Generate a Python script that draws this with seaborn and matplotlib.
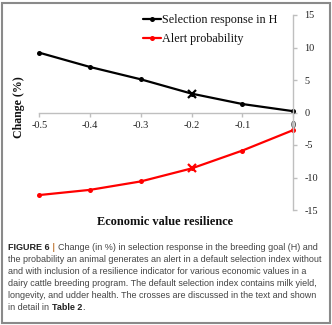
import numpy as np
import pandas as pd
import seaborn as sns
import matplotlib
matplotlib.use("Agg")
import matplotlib.pyplot as plt
from matplotlib.lines import Line2D
from matplotlib.patches import Rectangle

# Economic value of resilience and the resulting changes (%)
econ_value = [-0.5, -0.4, -0.3, -0.2, -0.1, 0.0]
selection_response = [9.2, 7.0, 5.1, 2.9, 1.3, 0.2]
alert_probability = [-12.7, -11.9, -10.6, -8.6, -5.85, -2.7]
cross_value = -0.2  # scenario detailed in Table 2

series_names = ["Selection response in H", "Alert probability"]
series_colors = ["black", "red"]
y_ticks = [-15, -10, -5, 0, 5, 10, 15]
x_ticks = [-0.5, -0.4, -0.3, -0.2, -0.1, 0.0]
x_tick_labels = ["-0.5", "-0.4", "-0.3", "-0.2", "-0.1", "0"]

caption_lines = [
    [("FIGURE 6", "bold", "#222222"), (" | ", "bold", "#c07a3a"),
     ("Change (in %) in selection response in the breeding goal (H) and", "normal", "#444444")],
    [("the probability an animal generates an alert in a default selection index without", "normal", "#444444")],
    [("and with inclusion of a resilience indicator for various economic values in a", "normal", "#444444")],
    [("dairy cattle breeding program. The default selection index contains milk yield,", "normal", "#444444")],
    [("longevity, and udder health. The crosses are discussed in the text and shown", "normal", "#444444")],
    [("in detail in ", "normal", "#444444"), ("Table 2", "bold", "#222222"), (".", "normal", "#444444")],
]

df = pd.DataFrame({
    "x": econ_value * 2,
    "y": selection_response + alert_probability,
    "series": [series_names[0]] * len(econ_value) + [series_names[1]] * len(econ_value),
})

sns.set_theme(style="white")
plt.rcParams["font.family"] = ["Liberation Serif", "DejaVu Serif"]

W, H = 332, 325
fig = plt.figure(figsize=(W / 100, H / 100), dpi=100)
fig.patch.set_facecolor("white")

# axes placed in pixel terms
x0, x1 = 39.3, 293.3
ytop, ybot = 15.0, 210.0
ax = fig.add_axes([x0 / W, (H - ybot) / H, (x1 - x0) / W, (ybot - ytop) / H])
ax.set_facecolor("none")

palette = dict(zip(series_names, series_colors))
sns.lineplot(data=df, x="x", y="y", hue="series", palette=palette, ax=ax,
             marker="o", markersize=3.6, markeredgewidth=0, linewidth=1.6,
             legend=False, clip_on=False)

# crosses at the highlighted scenario
for name, vals, col in zip(series_names, [selection_response, alert_probability], series_colors):
    yv = vals[econ_value.index(cross_value)]
    ax.plot([cross_value], [yv], marker="x", color=col, markersize=5.5,
            markeredgewidth=1.6, linestyle="none", clip_on=False, zorder=5)

ax.set_xlim(-0.5, 0.0)
ax.set_ylim(-15, 15)

axis_gray = "#bfbfbf"
for side in ["left", "top"]:
    ax.spines[side].set_visible(False)
ax.spines["right"].set_color(axis_gray)
ax.spines["right"].set_linewidth(1.0)
ax.spines["bottom"].set_position(("data", 0))
ax.spines["bottom"].set_color(axis_gray)
ax.spines["bottom"].set_linewidth(1.0)

ax.yaxis.tick_right()
ax.set_yticks(y_ticks)
ax.set_yticklabels([str(v) for v in y_ticks])
ax.set_xticks(x_ticks)
ax.set_xticklabels(x_tick_labels)
ax.tick_params(axis="y", which="both", direction="out", length=3, width=1,
               color=axis_gray, labelsize=7.4, labelcolor="#222222", pad=5,
               right=True, left=False, labelright=True, labelleft=False)
ax.tick_params(axis="x", which="both", direction="out", length=3, width=1,
               color=axis_gray, labelsize=7.4, labelcolor="#222222", pad=3,
               bottom=True)
ax.set_xlabel("")
ax.set_ylabel("")

ax.text((19 - x0) / (x1 - x0), (ybot - 107.5) / (ybot - ytop), "Change (%)",
        transform=ax.transAxes, rotation=90, ha="center", va="center",
        fontsize=8.6, fontweight="bold", color="#111111")
ax.text((164.7 - x0) / (x1 - x0), (ybot - 222) / (ybot - ytop), "Economic value resilience",
        transform=ax.transAxes, ha="center", va="center",
        fontsize=8.9, fontweight="bold", color="#111111")

handles = [Line2D([], [], color=c, lw=1.6, marker="o", markersize=3.6, markeredgewidth=0)
           for c in series_colors]
leg = ax.legend(handles, series_names, loc="upper left",
                bbox_to_anchor=(143 / W, 1 - 14.5 / H), bbox_transform=fig.transFigure,
                frameon=False, fontsize=8.7, handlelength=1.45, handletextpad=0.1,
                labelspacing=0.55, borderpad=0, borderaxespad=0)
for t in leg.get_texts():
    t.set_color("#111111")

# caption below the chart, drawn piece by piece so bold runs sit inline
line_y = [248, 260, 272, 284, 296, 308]
for row, yy in zip(caption_lines, line_y):
    last = None
    for txt, weight, col in row:
        kw = dict(fontsize=6.5, fontweight=weight, color=col,
                  family=["Liberation Sans", "DejaVu Sans"], va="center", ha="left")
        if last is None:
            last = fig.text(8.5 / W, 1 - yy / H, txt, **kw)
        else:
            last = fig.add_artist(matplotlib.text.Annotation(
                txt, xy=(1, 0.5), xycoords=last, annotation_clip=False, **kw))

# frame around the figure
fig.patches.append(Rectangle((2 / W, 2.5 / H), (W - 4.5) / W, (H - 5) / H,
                             transform=fig.transFigure, fill=False,
                             edgecolor="#8a8a8a", linewidth=1.5))

fig.savefig("out.png", dpi=100, facecolor="white")
